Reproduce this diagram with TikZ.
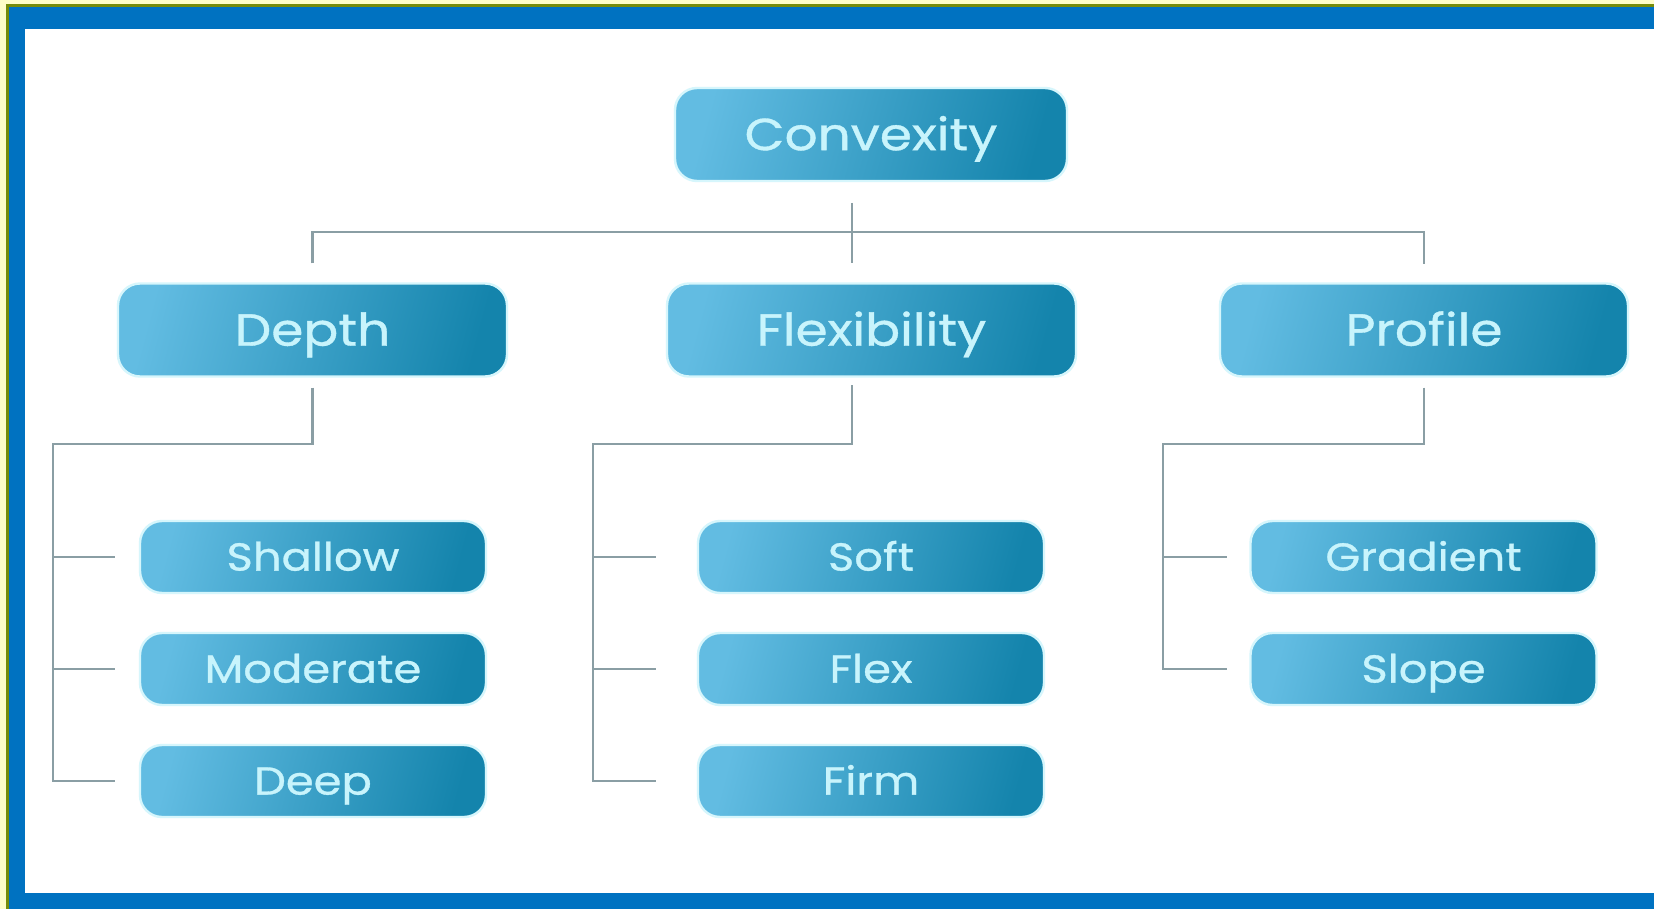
\documentclass[tikz,border=0pt]{standalone}
\usepackage{fontspec}
\setmainfont{Poppins}
\newfontfamily\boxfont[FakeStretch=1.15,FakeBold=0.8]{Poppins}
\usetikzlibrary{calc}
\definecolor{pagebg}{RGB}{255,253,200}
\definecolor{oliveline}{RGB}{118,140,10}
\definecolor{frameblue}{RGB}{0,114,193}
\definecolor{boxlight}{RGB}{98,188,226}
\definecolor{boxdark}{RGB}{20,132,172}
\definecolor{boxtext}{RGB}{200,244,252}
\definecolor{halo}{RGB}{214,246,252}
\definecolor{connline}{RGB}{138,158,164}
\tikzset{
  boxbase/.style={rounded corners=11pt, left color=boxlight, right color=boxdark,
    shading angle=75, draw=halo, line width=1.2pt, text=boxtext, inner sep=0pt,
    align=center, text depth=0pt},
  topbox/.style={boxbase, minimum height=46.5pt, text height=15.7pt,
    font=\boxfont\fontsize{22.5}{24}\selectfont},
  subbox/.style={boxbase, minimum width=173pt, minimum height=36pt, text height=13.6pt,
    font=\boxfont\fontsize{19.5}{22}\selectfont},
  conn/.style={draw=connline, line width=1.1pt}
}
\begin{document}
\begin{tikzpicture}[x=0.5pt,y=-0.5pt]
\useasboundingbox (0,0) rectangle (1654,909);
\fill[pagebg] (0,0) rectangle (1654,909);
\fill[oliveline] (6,4) rectangle (1654,909);
\fill[frameblue] (9,7) rectangle (1654,909);
\fill[white] (25,29) rectangle (1654,893);

% top level
\node[topbox, minimum width=196pt] (conv) at (871,134.5) {Convexity};
\node[topbox, minimum width=194.5pt] (depth) at (312.5,330) {Depth};
\node[topbox, minimum width=204.5pt] (flex) at (871.5,330) {Flexibility};
\node[topbox, minimum width=204pt] (prof) at (1424,330) {Profile};

% children
\node[subbox] (shallow) at (313,557) {Shallow};
\node[subbox] (moderate) at (313,669) {Moderate};
\node[subbox] (deep) at (313,781) {Deep};
\node[subbox] (soft) at (871,557) {Soft};
\node[subbox] (flexc) at (871,669) {Flex};
\node[subbox] (firm) at (871,781) {Firm};
\node[subbox] (gradient) at (1423.5,557) {Gradient};
\node[subbox] (slope) at (1423.5,669) {Slope};

% bus coordinates
\coordinate (topbus) at (852,232);
\coordinate (stemtop) at (852,203);
\coordinate (stembot) at (852,263);
\coordinate (dbus) at (53,444);
\coordinate (fbus) at (593,444);
\coordinate (fstem) at (852,385);
\coordinate (pbus) at (1163,444);

% top connectors
\draw[conn] (stemtop) -- (stembot);
\draw[conn] ([yshift=9.5pt]depth.north) |- (topbus) -| ([yshift=9pt]prof.north);

% depth subtree
\draw[conn] ([yshift=-5pt]depth.south) |- (dbus) |- ([xshift=-12pt]deep.west);
\draw[conn] (dbus |- shallow.west) -- ([xshift=-12pt]shallow.west);
\draw[conn] (dbus |- moderate.west) -- ([xshift=-12pt]moderate.west);

% flexibility subtree
\draw[conn] (fstem) |- (fbus) |- ([xshift=-20.5pt]firm.west);
\draw[conn] (fbus |- soft.west) -- ([xshift=-20.5pt]soft.west);
\draw[conn] (fbus |- flexc.west) -- ([xshift=-20.5pt]flexc.west);

% profile subtree
\draw[conn] ([yshift=-5pt]prof.south) |- (pbus) |- ([xshift=-11pt]slope.west);
\draw[conn] (pbus |- gradient.west) -- ([xshift=-11pt]gradient.west);
\end{tikzpicture}
\end{document}
